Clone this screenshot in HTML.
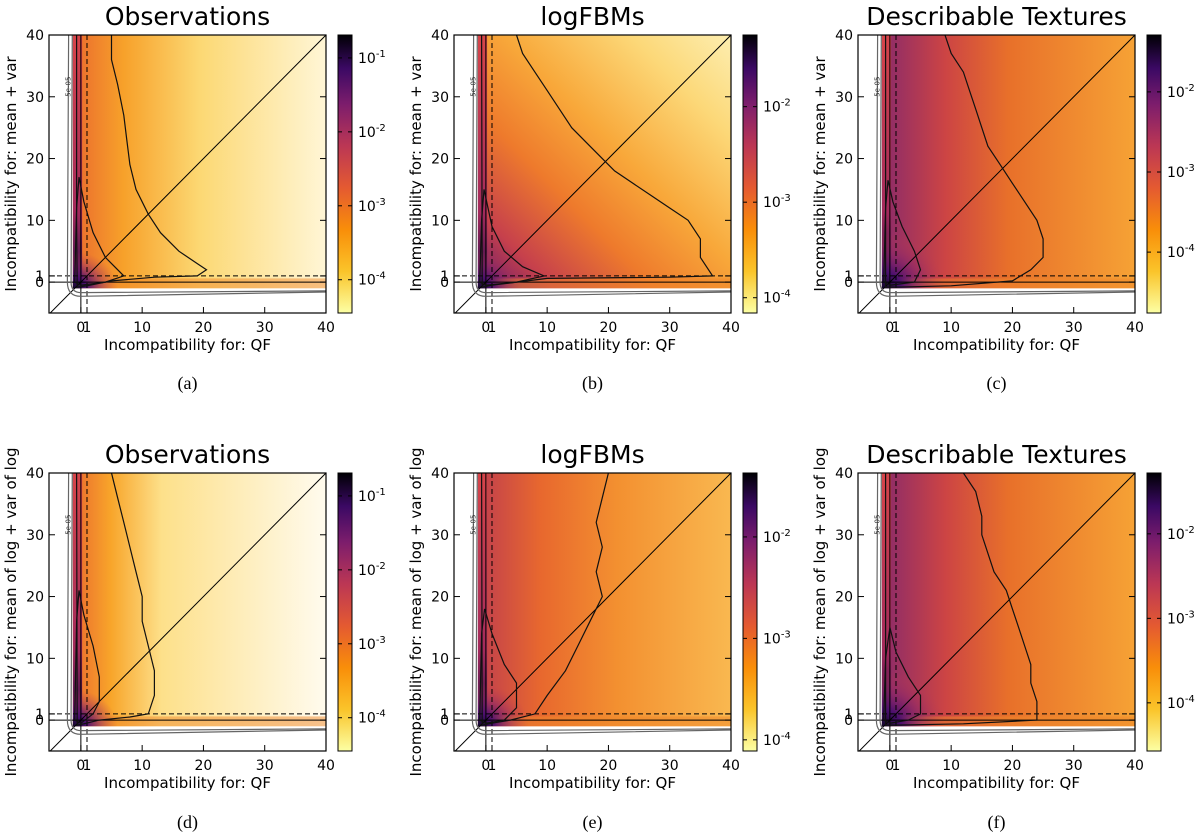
<!DOCTYPE html>
<html><head><meta charset="utf-8">
<style>
html,body{margin:0;padding:0;background:#fff;}
svg{display:block;font-family:"DejaVu Sans","Liberation Sans",sans-serif;}
</style></head>
<body>
<svg id="fig" width="1200" height="835" viewBox="0 0 1200 835" xmlns="http://www.w3.org/2000/svg">
<defs>
<linearGradient id="cbar" x1="0" y1="1" x2="0" y2="0">
<stop offset="0" stop-color="#fcffa4"/><stop offset="0.15" stop-color="#fac42a"/>
<stop offset="0.3" stop-color="#f98e09"/><stop offset="0.45" stop-color="#e45a31"/>
<stop offset="0.6" stop-color="#bc3754"/><stop offset="0.75" stop-color="#7d1d6c"/>
<stop offset="0.88" stop-color="#3b0964"/><stop offset="1" stop-color="#000004"/>
</linearGradient>
<linearGradient id="fadeA" x1="0" y1="0" x2="1" y2="0">
<stop offset="0" stop-color="#ea6a2e"/><stop offset="0.2" stop-color="#f7a12a"/>
<stop offset="0.5" stop-color="#fcd873"/><stop offset="1" stop-color="#fff6d6"/>
</linearGradient>
<linearGradient id="fadeD" x1="0" y1="0" x2="1" y2="0">
<stop offset="0" stop-color="#ea6a2e"/><stop offset="0.15" stop-color="#f8a52a"/>
<stop offset="0.35" stop-color="#fde08a"/><stop offset="1" stop-color="#fffbee"/>
</linearGradient>
<linearGradient id="fadeB" x1="0" y1="1" x2="1" y2="0">
<stop offset="0" stop-color="#5a1870"/><stop offset="0.15" stop-color="#c6404c"/>
<stop offset="0.35" stop-color="#ee7a2c"/><stop offset="0.55" stop-color="#f8a83a"/>
<stop offset="0.8" stop-color="#fcd878"/><stop offset="1" stop-color="#fdeeb0"/>
</linearGradient>
<linearGradient id="fadeE" x1="0" y1="0" x2="1" y2="0">
<stop offset="0" stop-color="#c03e4e"/><stop offset="0.25" stop-color="#e8682e"/>
<stop offset="0.55" stop-color="#f39030"/><stop offset="1" stop-color="#f9b850"/>
</linearGradient>
<linearGradient id="fadeC" x1="0" y1="0" x2="1" y2="0">
<stop offset="0" stop-color="#8a2a6a"/><stop offset="0.25" stop-color="#cc4444"/>
<stop offset="0.5" stop-color="#e8702a"/><stop offset="1" stop-color="#f6a235"/>
</linearGradient>
<linearGradient id="col" x1="0" y1="0" x2="0" y2="1">
<stop offset="0" stop-color="#d6454a"/><stop offset="0.7" stop-color="#a32a5c"/>
<stop offset="1" stop-color="#2a0a4a"/>
</linearGradient>
<radialGradient id="core" cx="0" cy="1" r="1">
<stop offset="0" stop-color="#100828"/><stop offset="0.3" stop-color="#4a0f6e"/>
<stop offset="0.65" stop-color="#8c2668" stop-opacity="0.5"/><stop offset="1" stop-color="#c03a50" stop-opacity="0"/>
</radialGradient>
</defs>
</svg>
<script>
const NS='http://www.w3.org/2000/svg';
const svg=document.getElementById('fig');
// ---- data ----
const titles=['Observations','logFBMs','Describable Textures','Observations','logFBMs','Describable Textures'];
const captions=['(a)','(b)','(c)','(d)','(e)','(f)'];
const yTitles=['Incompatibility for: mean + var','Incompatibility for: mean + var','Incompatibility for: mean + var','Incompatibility for: mean of log + var of log','Incompatibility for: mean of log + var of log','Incompatibility for: mean of log + var of log'];
const xTicks=[0,1,10,20,30,40];
const yTicks=[0,1,10,20,30,40];
const cbarTop=[-0.69,-1.25,-1.29,-0.69,-1.37,-1.28];
const cbarBottom=[-4.45,-4.16,-4.76,-4.45,-4.11,-4.57];
const cbarTicks=[[-1,-2,-3,-4],[-2,-3,-4],[-2,-3,-4],[-1,-2,-3,-4],[-2,-3,-4],[-2,-3,-4]];
const fills=['fadeA','fadeB','fadeC','fadeD','fadeE','fadeC'];
const coreSize=[6,6,9,6,7,9];
const outerContours=[
 [[5,40],[5,36],[6,32],[7,27],[7.5,23],[8,19],[9,15],[11,11],[13,8],[16,5],[19,3],[20.5,2],[19,1],[12,0.8],[5,0.2],[1,-0.6],[-0.6,-0.8],[-0.7,10],[-0.7,40]],
 [[5,40],[6,37],[8,34],[10,31],[12,28],[14,25],[17,22],[19,20],[21,18],[24,16],[27,14],[30,12],[33,10],[35,7],[35,4],[37,1],[30,0.8],[10,0.6],[1,-0.5],[-0.6,-0.8],[-0.7,40]],
 [[9,40],[10,37],[12,34],[13,31],[14,28],[15,25],[16,22],[18,19],[20,16],[22,13],[24,10],[25,7],[25,4],[23,2],[20,0.2],[10,-0.6],[1,-0.8],[-0.7,-0.8],[-0.7,40]],
 [[5,40],[6,36],[7,32],[8,28],[9,24],[10,20],[10,16],[11,12],[12,8],[12,4],[11,1],[8,0.5],[3,0],[0.5,-0.6],[-0.6,-0.8],[-0.7,40]],
 [[20,40],[19,36],[18,32],[19,28],[18,24],[19,20],[17,16],[15,12],[13,8],[10,4],[8,1],[4,0],[1,-0.5],[-0.6,-0.8],[-0.7,40]],
 [[12,40],[14,37],[15,33],[15,30],[16,27],[17,24],[19,21],[20,18],[21,15],[22,12],[23,9],[23,6],[24,3],[24,0],[12,-0.6],[1,-0.8],[-0.7,-0.8],[-0.7,40]]
];
const innerContours=[
 [[-1,0],[-0.7,12],[-0.3,17],[0.5,13],[2,8],[4,4],[7,1],[4,0],[0,-0.5],[-1,0]],
 [[-1,0],[-0.7,10],[-0.3,15],[1,9],[3,5],[6,2.5],[9.5,1],[5,0],[0,-0.5],[-1,0]],
 [[-1,0],[-0.7,12],[-0.3,16.5],[0.5,13],[2,9],[4,5],[5,2],[4,0],[0,-0.5],[-1,0]],
 [[-1,0],[-0.7,16],[-0.3,21],[0.5,17],[2,12],[3,7],[3,3],[2,1],[0,-0.5],[-1,0]],
 [[-1,0],[-0.7,14],[-0.2,18],[1,14],[3,9],[5,6],[5,2],[3,0],[0,-0.5],[-1,0]],
 [[-1,0],[-0.7,10],[0,15],[1,11],[3,7],[5,4],[5,1],[3,0],[0,-0.5],[-1,0]]
];
// ---- layout ----
const lefts=[49,454,858];
const tops=[35,473];
const capY=[389,828];
const PW=277, PH=278;
const XMIN=-5.2,XMAX=40,YMIN=-5,YMAX=40;
function el(tag,attrs,parent){const e=document.createElementNS(NS,tag);for(const k in attrs)e.setAttribute(k,attrs[k]);(parent||svg).appendChild(e);return e;}
function txt(s,attrs,parent){const e=el('text',attrs,parent);e.textContent=s;return e;}
for(let i=0;i<6;i++){
 const row=Math.floor(i/3);
 const L=lefts[i%3],T=tops[row];
 const sx=x=>L+(x-XMIN)/(XMAX-XMIN)*PW;
 const sy=y=>T+(YMAX-y)/(YMAX-YMIN)*PH;
 const g=el('g',{});
 
 
 const clipId='clip'+i;
 const cp=el('clipPath',{id:clipId},g);el('rect',{x:L,y:T,width:PW,height:PH},cp);
 const hm=el('g',{'clip-path':'url(#'+clipId+')'},g);
 
 
 el('rect',{x:sx(-1.3),y:sy(40),width:sx(40)-sx(-1.3),height:sy(-1)-sy(40),fill:'url(#'+fills[i]+')'},hm);
 el('rect',{x:sx(-1.3),y:sy(0.6),width:sx(40)-sx(-1.3),height:sy(-1)-sy(0.6),fill:'#f0882a',opacity:0.5},hm);
 el('rect',{x:sx(-1.3),y:sy(40),width:sx(0.2)-sx(-1.3),height:sy(-1)-sy(40),fill:'url(#col)'},hm);
 const cs=coreSize[i];
 el('rect',{x:sx(-1.3),y:sy(-1+cs),width:sx(cs)-sx(-1.3),height:sy(-1)-sy(-1+cs),fill:'url(#core)'},hm);
 // reference lines
 el('line',{x1:sx(XMIN),y1:sy(XMIN),x2:sx(40),y2:sy(40),stroke:'#000','stroke-width':1},hm);
 el('line',{x1:L,y1:sy(0),x2:L+PW,y2:sy(0),stroke:'#000','stroke-width':1},hm);
 el('line',{x1:L,y1:sy(1),x2:L+PW,y2:sy(1),stroke:'#000','stroke-width':1,'stroke-dasharray':'5,3'},hm);
 el('line',{x1:sx(0),y1:T,x2:sx(0),y2:T+PH,stroke:'#000','stroke-width':1},hm);
 el('line',{x1:sx(1),y1:T,x2:sx(1),y2:T+PH,stroke:'#000','stroke-width':1,'stroke-dasharray':'5,3'},hm);
 // gray contours
 const gp=(o)=>`M${sx(-2+o)},${sy(40)} L${sx(-2.2+o)},${sy(0)} Q${sx(-2.2+o)},${sy(-2.3+o)} ${sx(0)},${sy(-2.3+o)} L${sx(40)},${sy(-1.6+o*0.3)}`;
 el('path',{d:gp(0),fill:'none',stroke:'#666','stroke-width':1.2},hm);
 el('path',{d:gp(0.6),fill:'none',stroke:'#666','stroke-width':1.2},hm);
 const pth=pts=>pts.map((p,k)=>(k?'L':'M')+sx(p[0]).toFixed(1)+','+sy(p[1]).toFixed(1)).join(' ');
 const oc=el('path',{d:pth(outerContours[i]),fill:'none',stroke:'#111','stroke-width':1.2},hm);
 
 
 const ic=el('path',{d:pth(innerContours[i]),fill:'none',stroke:'#111','stroke-width':1.2},hm);
 
 
 txt('5e-05',{x:0,y:0,'font-size':7,fill:'#333',transform:`translate(${sx(-1.7)},${sy(30)}) rotate(-90)`},hm);
 // frame
 el('rect',{x:L,y:T,width:PW,height:PH,fill:'none',stroke:'#000','stroke-width':1.2},g);
 // ticks
 xTicks.forEach(v=>{
  el('line',{x1:sx(v),y1:T+PH,x2:sx(v),y2:T+PH-6,stroke:'#000'},g);
  const t=txt(String(v),{x:sx(v),y:T+PH+19,'font-size':14,'text-anchor':'middle'},g);
  
  
 });
 yTicks.forEach(v=>{
  el('line',{x1:L,y1:sy(v),x2:L+6,y2:sy(v),stroke:'#000'},g);
  el('line',{x1:L+PW,y1:sy(v),x2:L+PW-6,y2:sy(v),stroke:'#000'},g);
  const t=txt(String(v),{x:L-5,y:sy(v)+5,'font-size':14,'text-anchor':'end'},g);
  
  
 });
 const xt=txt('Incompatibility for: QF',{x:L+PW/2,y:T+PH+37,'font-size':15,'text-anchor':'middle'},g);
 
 
 const yt=txt(yTitles[i],{x:0,y:0,'font-size':15,'text-anchor':'middle',transform:`translate(${L-33},${T+PH/2}) rotate(-90)`},g);
 
 
 const tt=txt(titles[i],{x:L+PW/2,y:T-10,'font-size':25,'text-anchor':'middle'},g);
 
 
 const cap=txt(captions[i],{x:L+PW/2,y:capY[row],'font-size':18,'text-anchor':'middle','font-family':'Liberation Serif, serif'},g);
 
 
 // colorbar
 const CX=L+PW+12,CW=14,CT=T,CB=T+PH;
 const cb=el('rect',{x:CX,y:CT,width:CW,height:CB-CT,fill:'url(#cbar)',stroke:'#000','stroke-width':1},g);
 
 
 const cy=v=>CT+(cbarTop[i]-v)/(cbarTop[i]-cbarBottom[i])*(CB-CT);
 cbarTicks[i].forEach(v=>{
  el('line',{x1:CX,y1:cy(v),x2:CX+4,y2:cy(v),stroke:'#000'},g);
  el('line',{x1:CX+CW,y1:cy(v),x2:CX+CW-4,y2:cy(v),stroke:'#000'},g);
  const t=txt('10',{x:CX+CW+6,y:cy(v)+5,'font-size':14},g);
  const s=el('tspan',{dy:-6,'font-size':10},t);s.textContent=String(v);
  
  
 });
}
</script>
</body></html>
